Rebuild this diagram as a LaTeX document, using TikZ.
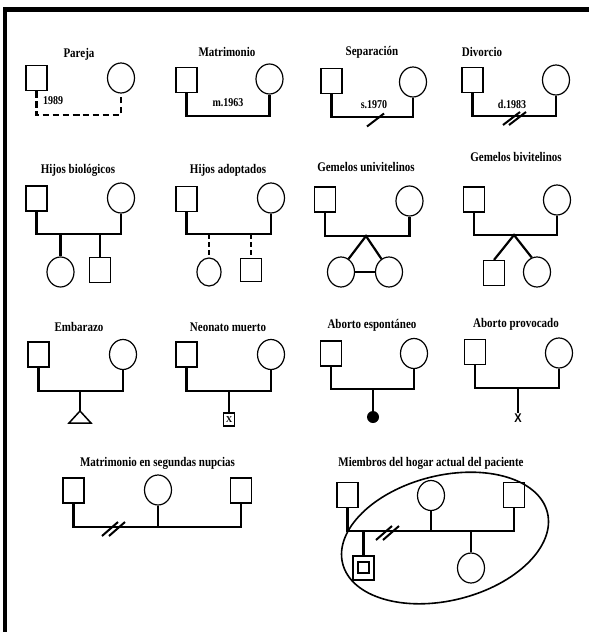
\documentclass[tikz,border=0pt]{standalone}
\usepackage{fontspec}
\setmainfont{Liberation Serif}
\newfontfamily\xsans{Liberation Sans}
\usetikzlibrary{shapes.geometric}
\begin{document}
\begin{tikzpicture}[x=1pt,y=-1pt,
  male/.style={draw, rectangle, line width=1.2pt, minimum width=21pt, minimum height=25pt, inner sep=0pt},
  female/.style={draw, ellipse, line width=1.2pt, minimum width=27pt, minimum height=30pt, inner sep=0pt},
  link/.style={line width=2.2pt},
  ttl/.style={font=\bfseries\fontsize{11}{12}\selectfont, inner sep=0pt},
  lbl/.style={font=\bfseries\fontsize{10}{11}\selectfont, inner sep=0pt},
  slashmark/.style={line width=2pt},
  frame/.style={line width=4.8pt},
]
\useasboundingbox (0,0) rectangle (589,632);
% frame
\coordinate (fb) at (5,640);
\coordinate (fc) at (5,9.5);
\coordinate (fr) at (595,9.5);
\draw[frame] (fb) -- (fc) -- (fr);

% ---------- Row 1 ----------
% Pareja
\node[ttl] (tA) at (79,54) {\scalebox{1}[1.2]{Pareja}};
\node[male] (mA) at (36.5,78) {};
\node[female] (fA) at (121,78) {};
\coordinate (jA) at (79,115);
\draw[link, dashed, dash pattern=on 6.5pt off 3.5pt] (mA.south) |- (jA) -| (fA.south);
\node[lbl] (lA) at (53,101) {\scalebox{1}[1.2]{1989}};

% Matrimonio
\node[ttl] (tB) at (227,52) {\scalebox{1}[1.2]{Matrimonio}};
\node[male] (mB) at (186.5,80) {};
\node[female] (fB) at (269.5,79) {};
\coordinate (jB) at (228,116);
\draw[link] (mB.south) |- (jB) -| (fB.south);
\node[lbl] (lB) at (228,103) {\scalebox{1}[1.2]{m.1963}};

% Separacion
\node[ttl] (tC) at (372,52) {\scalebox{1}[1.2]{Separación}};
\node[male] (mC) at (331.5,81) {};
\node[female] (fC) at (413,82) {};
\coordinate (jC) at (372,117);
\draw[link] (mC.south) |- (jC) -| (fC.south);
\node[lbl] (lC) at (374,105) {\scalebox{1}[1.2]{s.1970}};
\coordinate (sC) at (375.5,120);
\draw[slashmark] ([shift={(-8.5,6.5)}]sC) -- ([shift={(8.5,-6.5)}]sC);

% Divorcio
\node[ttl] (tD) at (482,52) {\scalebox{1}[1.2]{Divorcio}};
\node[male] (mD) at (472.5,80) {};
\node[female] (fD) at (556,80) {};
\coordinate (jD) at (514,116);
\draw[link] (mD.south) |- (jD) -| (fD.south);
\node[lbl] (lD) at (512,104) {\scalebox{1}[1.2]{d.1983}};
\coordinate (sD1) at (511.5,118.5);
\coordinate (sD2) at (517.5,118.5);
\draw[slashmark] ([shift={(-8.5,6.5)}]sD1) -- ([shift={(8.5,-6.5)}]sD1);
\draw[slashmark] ([shift={(-8.5,6.5)}]sD2) -- ([shift={(8.5,-6.5)}]sD2);

% ---------- Row 2 ----------
% Hijos biologicos
\node[ttl] (tE) at (78,170) {\scalebox{1}[1.2]{Hijos biológicos}};
\node[male] (mE) at (36.5,198.5) {};
\node[female] (fE) at (121,198) {};
\coordinate (jE) at (79,234);
\draw[link] (mE.south) |- (jE) -| (fE.south);
\node[female] (cE1) at (60.5,272) {};
\node[male] (cE2) at (100,270) {};
\draw[link] (cE1.north |- jE) -- (cE1.north);
\draw[link] (cE2.north |- jE) -- (cE2.north);

% Hijos adoptados
\node[ttl] (tF) at (228,170) {\scalebox{1}[1.2]{Hijos adoptados}};
\node[male] (mF) at (186.5,199) {};
\node[female] (fF) at (271,198) {};
\coordinate (jF) at (228,234);
\draw[link] (mF.south) |- (jF) -| (fF.south);
\node[female, minimum width=24pt, minimum height=28pt] (cF1) at (209,272) {};
\node[male, minimum height=23pt] (cF2) at (251,270) {};
\draw[link, dash pattern=on 5pt off 3pt] (cF1.north |- jF) -- (cF1.north);
\draw[link, dash pattern=on 5pt off 3pt] (cF2.north |- jF) -- (cF2.north);

% Gemelos univitelinos
\node[ttl] (tG) at (366,167) {\scalebox{1}[1.2]{Gemelos univitelinos}};
\node[male] (mG) at (325,199.5) {};
\node[female] (fG) at (409.5,201) {};
\coordinate (jG) at (366,236);
\draw[link] (mG.south) |- (jG) -| (fG.south);
\node[female] (cG1) at (341,272) {};
\node[female] (cG2) at (389,272) {};
\draw[link] (cG1.60) -- (jG) -- (cG2.120);
\draw[link] (cG1.east) -- (cG2.west);

% Gemelos bivitelinos
\node[ttl] (tH) at (516,157) {\scalebox{1}[1.2]{Gemelos bivitelinos}};
\node[male] (mH) at (474,199.5) {};
\node[female] (fH) at (557,200) {};
\coordinate (jH) at (514,235);
\draw[link] (mH.south) |- (jH) -| (fH.south);
\node[male] (cH1) at (494,273) {};
\node[female] (cH2) at (537,272) {};
\draw[link] (cH1.north) -- (jH) -- (cH2.110);

% ---------- Row 3 ----------
% Embarazo
\node[ttl] (tI) at (79,327) {\scalebox{1}[1.2]{Embarazo}};
\node[male] (mI) at (38.5,354.5) {};
\node[female] (fI) at (123,354.5) {};
\coordinate (jI) at (80,391);
\draw[link] (mI.south) |- (jI) -| (fI.south);
\coordinate (pI) at (80,411);
\coordinate (pIl) at (69,423);
\coordinate (pIr) at (91,423);
\draw[link] (jI) -- (pI);
\draw[line width=1.5pt, line join=miter] (pI) -- (pIr) -- (pIl) -- cycle;

% Neonato muerto
\node[ttl] (tJ) at (228,327) {\scalebox{1}[1.2]{Neonato muerto}};
\node[male] (mJ) at (186.5,354.5) {};
\node[female] (fJ) at (271,354.5) {};
\coordinate (jJ) at (229,391);
\draw[link] (mJ.south) |- (jJ) -| (fJ.south);
\node[draw, line width=1.7pt, minimum width=11pt, minimum height=13pt, inner sep=0pt, font=\bfseries\fontsize{9}{9}\selectfont] (cJ) at (229,419.5) {X};
\draw[link] (jJ) -- (cJ.north);

% Aborto espontaneo
\node[ttl] (tK) at (372,325) {\scalebox{1}[1.2]{Aborto espontáneo}};
\node[male] (mK) at (331,353.5) {};
\node[female] (fK) at (414,353.5) {};
\coordinate (jK) at (373,389);
\draw[link] (mK.south) |- (jK) -| (fK.south);
\node[circle, fill, minimum size=12pt, inner sep=0pt] (cK) at (373,417) {};
\draw[link] (jK) -- (cK.center);

% Aborto provocado
\node[ttl] (tL) at (516,324) {\scalebox{1}[1.2]{Aborto provocado}};
\node[male] (mL) at (475,352) {};
\node[female] (fL) at (559,353) {};
\coordinate (jL) at (518,388);
\draw[link] (mL.south) |- (jL) -| (fL.south);
\node[inner sep=0pt, font=\xsans\bfseries\fontsize{11}{11}\selectfont] (cL) at (518,418) {\scalebox{1}[1.15]{X}};
\draw[link] (jL) -- (cL.north);

% ---------- Row 4 ----------
% Matrimonio en segundas nupcias
\node[ttl] (tM) at (157.5,463) {\scalebox{1}[1.2]{Matrimonio en segundas nupcias}};
\node[male] (mM1) at (73.5,490.5) {};
\node[female] (fM) at (158,490) {};
\node[male] (mM2) at (241,490.5) {};
\coordinate (jM) at (158,527);
\draw[link] (mM1.south) |- (jM) -| (mM2.south);
\draw[link] (fM.south) -- (jM);
\coordinate (sM1) at (110,529);
\coordinate (sM2) at (117,529);
\draw[slashmark] ([shift={(-8,7)}]sM1) -- ([shift={(8,-7)}]sM1);
\draw[slashmark] ([shift={(-8,7)}]sM2) -- ([shift={(8,-7)}]sM2);

% Miembros del hogar actual del paciente
\node[ttl] (tN) at (431,463) {\scalebox{1}[1.2]{Miembros del hogar actual del paciente}};
\node[male] (mN1) at (347.5,495) {};
\node[female] (fN) at (431,495.5) {};
\node[male] (mN2) at (514,495) {};
\coordinate (jN) at (431,531);
\draw[link] (mN1.south) |- (jN) -| (mN2.south);
\draw[link] (fN.south) -- (jN);
\node[draw, line width=1.4pt, minimum width=21pt, minimum height=24pt, inner sep=0pt] (cN1) at (363.5,568) {};
\node[draw, line width=1.4pt, minimum width=11pt, minimum height=11pt, inner sep=0pt] (cN1i) at (363.5,567.5) {};
\node[female] (cN2) at (471,568) {};
\draw[link] (cN1.north |- jN) -- (cN1.north);
\draw[link] (cN2.north |- jN) -- (cN2.north);
\coordinate (sN1) at (384,533);
\coordinate (sN2) at (391,533);
\draw[slashmark] ([shift={(-8,7)}]sN1) -- ([shift={(8,-7)}]sN1);
\draw[slashmark] ([shift={(-8,7)}]sN2) -- ([shift={(8,-7)}]sN2);
\coordinate (eN) at (445,538);
\draw[line width=1.6pt, rotate around={14:(eN)}] (eN) ellipse [x radius=105.5, y radius=62.5];
\end{tikzpicture}
\end{document}
